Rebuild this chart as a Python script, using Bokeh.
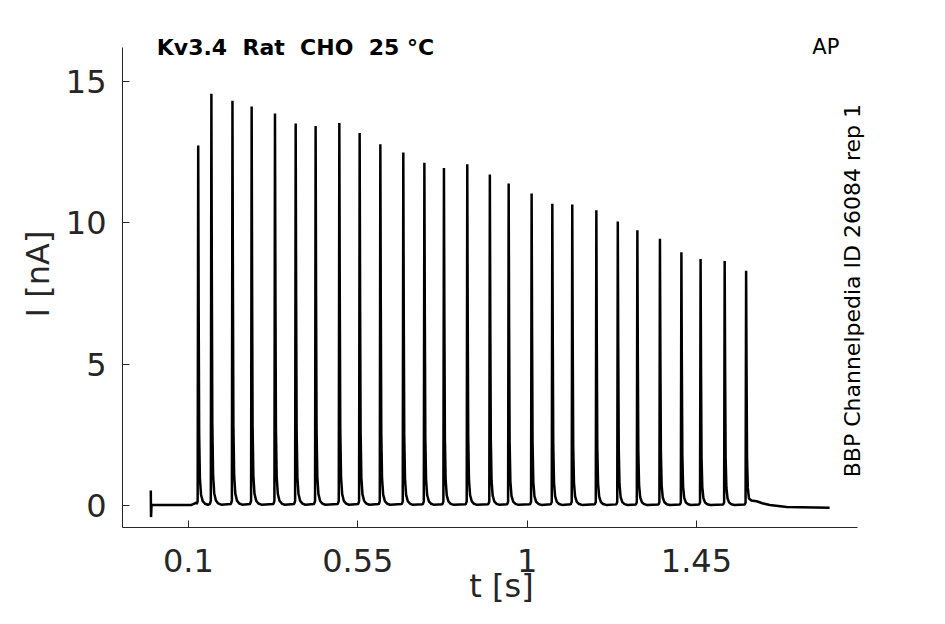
import math
from bokeh.plotting import figure
from bokeh.models import Range1d, FixedTicker, CustomJSTickFormatter, Label, ColumnDataSource
from bokeh.embed import file_html
from bokeh.resources import INLINE

# ---- data ----
# pulse peak times [s] and peak currents [nA]
pulse_t = [0.126, 0.161, 0.217, 0.268, 0.330, 0.385, 0.438, 0.501, 0.555,
           0.610, 0.671, 0.727, 0.779, 0.841, 0.901, 0.951, 1.012, 1.067,
           1.120, 1.184, 1.241, 1.293, 1.353, 1.410, 1.461, 1.525, 1.582]
pulse_peak = [12.74, 14.57, 14.32, 14.12, 13.87, 13.52, 13.43, 13.53, 13.18,
              12.78, 12.49, 12.13, 11.94, 12.07, 11.71, 11.39, 11.04, 10.68,
              10.65, 10.45, 10.05, 9.74, 9.44, 8.96, 8.72, 8.65, 8.31]
# shape of one spike: time offset from peak [s] and fraction of peak
spike_dt = [-0.004, -0.0015, 0.0, 0.0012, 0.0025, 0.0045, 0.0075, 0.012, 0.018, 0.026]
spike_frac = [0.004, 0.012, 1.0, 0.55, 0.2, 0.075, 0.03, 0.012, 0.005, 0.002]
# start of trace (before first spike)
pre_t = [0.0, 0.0006, 0.002, 0.108, 0.116, 0.121]
pre_i = [0.53, -0.41, 0.02, 0.02, 0.07, 0.10]
# end of trace (after last spike)
post_t = [1.596, 1.610, 1.625, 1.645, 1.690, 1.804]
post_i = [0.18, 0.15, 0.08, 0.02, -0.05, -0.08]

xticks = [0.1, 0.55, 1, 1.45]
yticks = [0, 5, 10, 15]

# ---- assemble trace ----
t_all = list(pre_t)
i_all = list(pre_i)
for k, (tp, pk) in enumerate(zip(pulse_t, pulse_peak)):
    last = (k == len(pulse_t) - 1)
    for dt, fr in zip(spike_dt, spike_frac):
        if last and dt > 0.008:
            break
        t_all.append(tp + dt)
        i_all.append(pk * fr)
t_all += post_t
i_all += post_i

src = ColumnDataSource(dict(t=t_all, i=i_all))

FONT = "DejaVu Sans"
GREY = "#262626"
NB = "\u00a0"

p = figure(width=929, height=608, output_backend="svg", toolbar_location=None,
           x_range=Range1d(-0.0752, 1.9391), y_range=Range1d(-0.778, 17.16),
           min_border_left=122, min_border_right=49, min_border_top=20,
           min_border_bottom=81)
p.outline_line_color = None
p.grid.visible = False
p.background_fill_color = "white"
p.border_fill_color = "white"

p.line("t", "i", source=src, line_color="black", line_width=2.5)

for ax in (p.xaxis[0], p.yaxis[0]):
    ax.axis_line_color = GREY
    ax.axis_line_width = 1
    ax.major_tick_line_color = GREY
    ax.major_tick_in = 7
    ax.major_tick_out = 0
    ax.minor_tick_line_color = None
    ax.major_label_text_font = FONT
    ax.major_label_text_font_size = "32px"
    ax.major_label_text_color = GREY
    ax.axis_label_text_font = FONT
    ax.axis_label_text_font_size = "32px"
    ax.axis_label_text_color = GREY
    ax.axis_label_text_font_style = "normal"
    ax.formatter = CustomJSTickFormatter(code="return tick.toString();")

p.xaxis.ticker = FixedTicker(ticks=xticks)
p.yaxis.ticker = FixedTicker(ticks=yticks)
p.xaxis.bounds = (-0.0752, 1.877)
p.yaxis.bounds = (-0.778, 16.19)
p.xaxis.axis_label = "t [s]"
p.yaxis.axis_label = "I [nA]"
p.xaxis.major_label_standoff = 21
p.yaxis.major_label_standoff = 16
p.xaxis.axis_label_standoff = -8
p.yaxis.axis_label_standoff = 6

p.add_layout(Label(x=0.016, y=16.21,
                   text="Kv3.4" + NB + " Rat" + NB + " CHO" + NB + " 25 °C",
                   text_font=FONT, text_font_size="22px", text_font_style="bold",
                   text_color="black", text_baseline="alphabetic", text_align="left"))
p.add_layout(Label(x=1.758, y=16.24, text="AP",
                   text_font=FONT, text_font_size="21px",
                   text_color="black", text_baseline="alphabetic", text_align="left"))
p.add_layout(Label(x=1.865, y=1.0, text="BBP Channelpedia ID 26084 rep 1",
                   text_font=FONT, text_font_size="22px", angle=math.pi / 2,
                   text_color="black", text_baseline="alphabetic", text_align="left"))

open("out.html", "w").write(file_html(p, INLINE))
